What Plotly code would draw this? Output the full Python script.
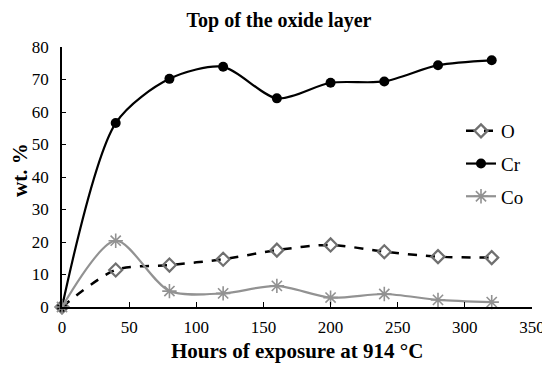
import plotly.graph_objects as go

hours = [0, 40, 80, 120, 160, 200, 240, 280, 320]
o_vals = [0, 11.4, 12.9, 14.7, 17.5, 19.1, 17.0, 15.5, 15.2]
cr_vals = [0, 56.6, 70.2, 73.9, 64.2, 69.0, 69.4, 74.4, 75.9]
co_vals = [0, 20.4, 4.9, 4.2, 6.5, 2.9, 4.0, 2.2, 1.5]
x_ticks = [0, 50, 100, 150, 200, 250, 300, 350]
y_ticks = [0, 10, 20, 30, 40, 50, 60, 70, 80]

FONT = "Liberation Serif, Times New Roman, serif"

fig = go.Figure()
fig.add_trace(go.Scatter(
    x=hours, y=o_vals, name="O", mode="lines+markers",
    line=dict(color="black", width=2.5, dash="dash", shape="spline", smoothing=0.8),
    marker=dict(symbol="diamond-open", size=10, color="#707070", line=dict(width=2.2, color="#707070")),
    legendgroup="a", cliponaxis=False))
fig.add_trace(go.Scatter(
    x=hours, y=cr_vals, name="Cr", mode="lines+markers",
    line=dict(color="black", width=2.2, shape="spline", smoothing=0.8),
    marker=dict(symbol="circle", size=10, color="black"),
    legendgroup="b", cliponaxis=False))
fig.add_trace(go.Scatter(
    x=hours, y=co_vals, name="Co", mode="lines+markers",
    line=dict(color="#929292", width=2.2, shape="spline", smoothing=0.8),
    marker=dict(symbol="asterisk-open", size=12, color="#929292", line=dict(width=1.6, color="#929292")),
    legendgroup="c", cliponaxis=False))

fig.update_layout(
    width=542, height=363,
    margin=dict(l=54, r=18, t=39, b=64),
    paper_bgcolor="white", plot_bgcolor="white",
    font=dict(family=FONT, color="black", size=17),
    title=dict(text="<b>Top of the oxide layer</b>", x=0.5, xanchor="center",
               y=1 - 12 / 363, yanchor="middle", font=dict(size=20, family=FONT)),
    showlegend=True,
    legend=dict(x=(461 - 62) / 470, y=(307 - 112) / 260, xanchor="left", yanchor="top",
                font=dict(size=19, family=FONT), tracegroupgap=5,
                traceorder="grouped", bgcolor="rgba(0,0,0,0)", itemwidth=30),
    xaxis=dict(range=[0, 350], tickvals=x_ticks, automargin=False,
               showgrid=False, zeroline=False, showline=True, linecolor="black", linewidth=1.5,
               ticks="inside", ticklen=5, tickcolor="black", tickwidth=1.2,
               tickfont=dict(size=17, family=FONT), ticklabelstandoff=4),
    yaxis=dict(range=[0, 80], tickvals=y_ticks, automargin=False,
               showgrid=False, zeroline=False, showline=True, linecolor="black", linewidth=1.5,
               ticks="inside", ticklen=4, tickcolor="black", tickwidth=1.2,
               tickfont=dict(size=17, family=FONT), ticklabelstandoff=8),
    annotations=[
        dict(text="<b>Hours of exposure at 914 °C</b>", xref="paper", yref="paper",
             x=0.5, y=(307 - 351) / 260, xanchor="center", yanchor="middle",
             showarrow=False, font=dict(size=21, family=FONT)),
        dict(text="<b>wt. %</b>", xref="paper", yref="paper", textangle=-90,
             x=(20 - 62) / 470, y=(307 - 170) / 260, xanchor="center", yanchor="middle",
             showarrow=False, font=dict(size=21, family=FONT)),
    ],
)

fig.write_html("out.html")
